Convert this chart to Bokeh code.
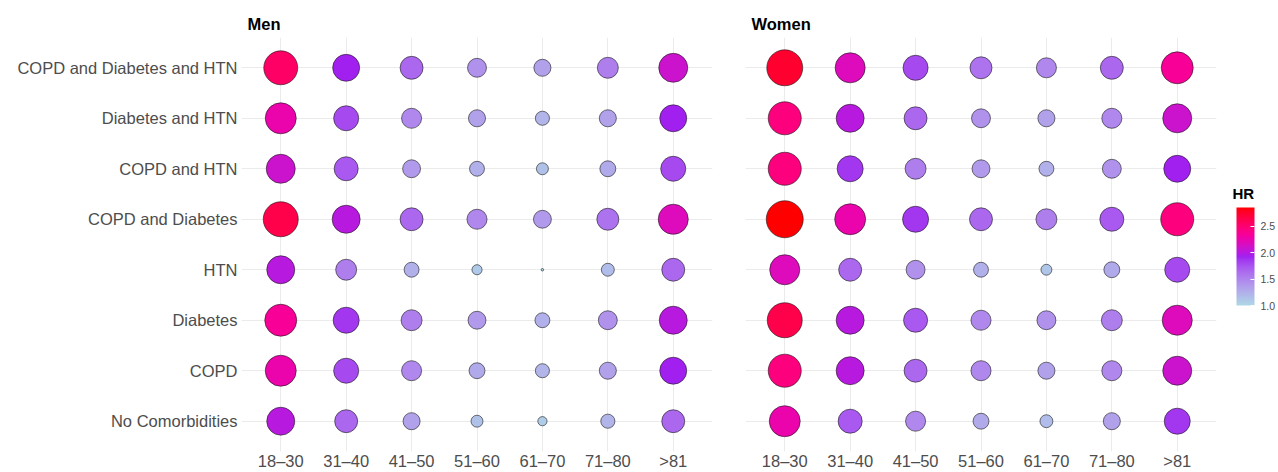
import numpy as np
from bokeh.plotting import figure
from bokeh.layouts import row
from bokeh.models import (ColumnDataSource, FactorRange, LinearColorMapper, ColorBar,
                          FixedTicker, PrintfTickFormatter, Label)
from bokeh.embed import file_html
from bokeh.resources import INLINE

# ---- data: hazard ratios by comorbidity (rows, top to bottom) and age group ----
ages = ["18–30", "31–40", "41–50", "51–60", "61–70", "71–80", ">81"]
conditions = ["COPD and Diabetes and HTN", "Diabetes and HTN", "COPD and HTN",
              "COPD and Diabetes", "HTN", "Diabetes", "COPD", "No Comorbidities"]

men_hr = [
    [2.54, 1.93, 1.65, 1.42, 1.33, 1.53, 2.09],
    [2.26, 1.79, 1.48, 1.33, 1.21, 1.33, 1.93],
    [2.09, 1.72, 1.37, 1.24, 1.14, 1.28, 1.79],
    [2.64, 2.01, 1.65, 1.48, 1.37, 1.59, 2.18],
    [2.01, 1.53, 1.24, 1.09, 1.00, 1.17, 1.65],
    [2.35, 1.86, 1.53, 1.37, 1.24, 1.42, 2.01],
    [2.26, 1.79, 1.48, 1.28, 1.21, 1.33, 1.93],
    [2.01, 1.65, 1.33, 1.14, 1.07, 1.21, 1.65],
]
women_hr = [
    [2.74, 2.18, 1.79, 1.59, 1.48, 1.65, 2.35],
    [2.45, 2.01, 1.65, 1.42, 1.33, 1.48, 2.09],
    [2.45, 1.86, 1.53, 1.37, 1.24, 1.42, 1.93],
    [2.85, 2.26, 1.86, 1.65, 1.53, 1.72, 2.45],
    [2.18, 1.65, 1.42, 1.24, 1.11, 1.28, 1.79],
    [2.64, 2.01, 1.72, 1.48, 1.42, 1.53, 2.18],
    [2.45, 2.01, 1.65, 1.48, 1.33, 1.48, 2.09],
    [2.26, 1.72, 1.48, 1.28, 1.17, 1.33, 1.86],
]
legend_ticks = [1.0, 1.5, 2.0, 2.5]

FONT = "Liberation Sans"
GREY = "#4D4D4D"
GRID = "#EBEBEB"

all_hr = np.array(men_hr + women_hr, dtype=float)
HR_LO, HR_HI = float(all_hr.min()), float(all_hr.max())

# ---- colour ramp lightblue -> purple -> pink -> red, interpolated in CIELAB ----
RAMP = [(0.0, "#ADD8E6"), (0.5, "#A020F0"), (0.72, "#F7009C"), (1.0, "#FF0000")]

def _hex_to_rgb(h):
    h = h.lstrip("#")
    return np.array([int(h[i:i + 2], 16) for i in (0, 2, 4)], dtype=float) / 255.0

_M = np.array([[0.4124564, 0.3575761, 0.1804375],
               [0.2126729, 0.7151522, 0.0721750],
               [0.0193339, 0.1191920, 0.9503041]])
_MI = np.linalg.inv(_M)
_WHITE = np.array([0.95047, 1.0, 1.08883])

def _rgb_to_lab(rgb):
    lin = np.where(rgb <= 0.04045, rgb / 12.92, ((rgb + 0.055) / 1.055) ** 2.4)
    xyz = _M @ lin / _WHITE
    f = np.where(xyz > 216 / 24389, np.cbrt(xyz), (24389 / 27 * xyz + 16) / 116)
    return np.array([116 * f[1] - 16, 500 * (f[0] - f[1]), 200 * (f[1] - f[2])])

def _lab_to_hex(lab):
    fy = (lab[0] + 16) / 116
    fx = fy + lab[1] / 500
    fz = fy - lab[2] / 200
    f = np.array([fx, fy, fz])
    xyz = np.where(f ** 3 > 216 / 24389, f ** 3, (116 * f - 16) / (24389 / 27)) * _WHITE
    lin = np.clip(_MI @ xyz, 0, 1)
    rgb = np.where(lin <= 0.0031308, 12.92 * lin, 1.055 * lin ** (1 / 2.4) - 0.055)
    rgb = np.clip(np.round(rgb * 255), 0, 255).astype(int)
    return "#%02x%02x%02x" % tuple(rgb)

_POS = [s for s, _ in RAMP]
_LAB = [_rgb_to_lab(_hex_to_rgb(c)) for _, c in RAMP]

def hr_colour(v):
    t = min(max((v - HR_LO) / (HR_HI - HR_LO), 0.0), 1.0)
    i = 0
    while i < len(_POS) - 2 and t > _POS[i + 1]:
        i += 1
    u = (t - _POS[i]) / (_POS[i + 1] - _POS[i])
    return _lab_to_hex(_LAB[i] * (1 - u) + _LAB[i + 1] * u)

palette = [hr_colour(HR_LO + (HR_HI - HR_LO) * k / 255) for k in range(256)]

# bubble area grows with HR
D_MIN, D_MAX = 2.5, 37.0
def hr_size(v):
    return D_MIN + (D_MAX - D_MIN) * np.sqrt((v - HR_LO) / (HR_HI - HR_LO))


def panel(title, hr, show_labels, **kw):
    xs, ys, vals = [], [], []
    for r, cond in enumerate(conditions):
        for c, age in enumerate(ages):
            xs.append(age)
            ys.append(cond)
            vals.append(hr[r][c])
    src = ColumnDataSource(dict(age=xs, cond=ys, hr=vals,
                                size=[hr_size(v) for v in vals],
                                colour=[hr_colour(v) for v in vals]))
    p = figure(
        x_range=FactorRange(*ages, range_padding=0.1, range_padding_units="absolute"),
        y_range=FactorRange(*conditions[::-1], range_padding=0.1, range_padding_units="absolute"),
        height=472, title=title,
        output_backend="svg", toolbar_location=None, **kw)
    p.scatter("age", "cond", source=src, size="size", fill_color="colour",
              line_color="#1a1a1a", line_width=0.6)

    p.title.text_font = FONT
    p.title.text_font_size = "16.5px"
    p.title.text_font_style = "bold"
    p.title.text_color = "black"
    p.title.offset = 6

    p.outline_line_color = None
    p.background_fill_color = "white"
    p.border_fill_color = "white"
    for g in (p.xgrid, p.ygrid):
        g.grid_line_color = GRID
        g.grid_line_width = 1
    for ax in (p.xaxis, p.yaxis):
        ax.axis_line_color = None
        ax.major_tick_line_color = None
        ax.minor_tick_line_color = None
        ax.major_tick_out = 0
        ax.major_tick_in = 0
        ax.minor_tick_out = 0
        ax.minor_tick_in = 0
        ax.major_label_text_font = FONT
        ax.major_label_text_font_size = "16.5px"
        ax.major_label_text_color = GREY
    p.xaxis.major_label_standoff = 0
    p.yaxis.major_label_standoff = 4
    if not show_labels:
        p.yaxis.visible = False
    return p


men = panel("Men", men_hr, True, width=741, min_border_left=241, min_border_right=29,
            min_border_top=37, min_border_bottom=0)
women = panel("Women", women_hr, False, width=537, min_border_left=4, min_border_right=62,
              min_border_top=37, min_border_bottom=0)

# colour legend for HR, placed to the right of the women's panel
mapper = LinearColorMapper(palette=palette, low=HR_LO, high=HR_HI)
cb = ColorBar(color_mapper=mapper, ticker=FixedTicker(ticks=legend_ticks),
              formatter=PrintfTickFormatter(format="%.1f"),
              width=18, height=98, location=(491, 146),
              major_label_text_font=FONT, major_label_text_font_size="10.5px",
              major_label_text_color=GREY, label_standoff=6,
              major_tick_line_color="white", major_tick_in=4, major_tick_out=0,
              bar_line_color=None, border_line_color=None,
              background_fill_color=None, padding=0)
women.add_layout(cb, "center")
women.add_layout(Label(x=16, y=250, x_units="screen", y_units="screen", text="HR",
                       text_font=FONT, text_font_size="15px", text_font_style="bold",
                       text_color="black", text_baseline="bottom"), "right")

layout = row(men, women, spacing=0)
open("out.html", "w").write(file_html(layout, INLINE))
